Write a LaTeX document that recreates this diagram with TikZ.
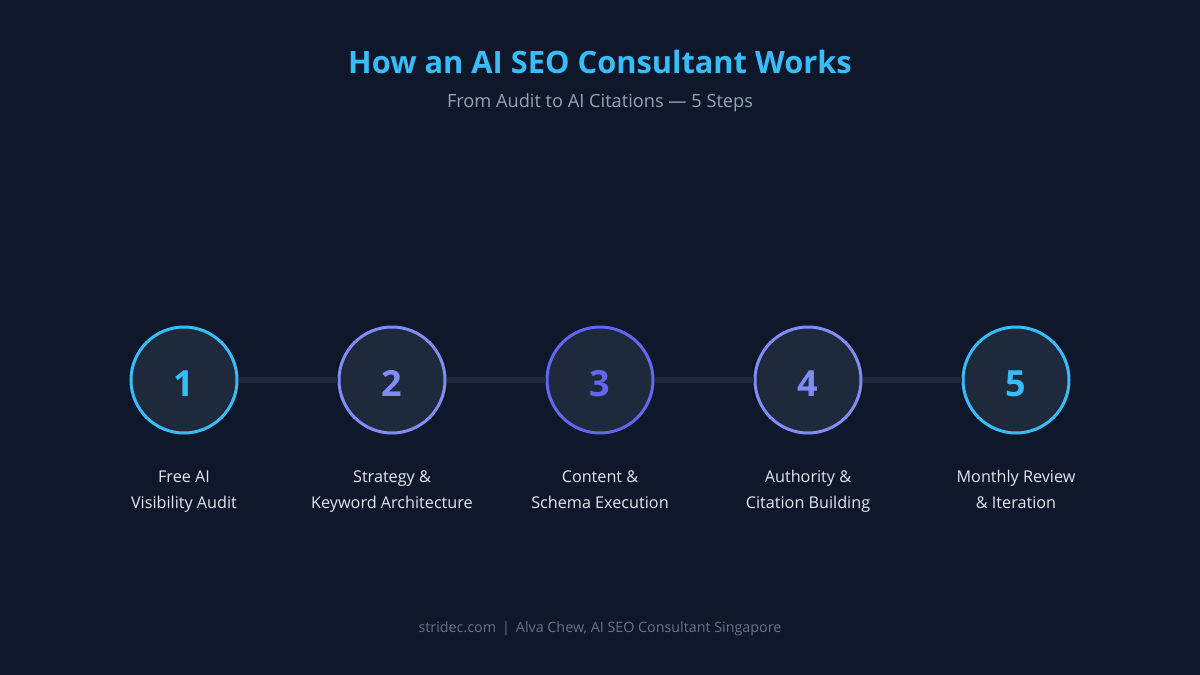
\documentclass[tikz,border=0pt]{standalone}
\usepackage{fontspec}
\setmainfont{Open Sans}
\definecolor{bg}{HTML}{0F172A}
\definecolor{cfill}{HTML}{1E293B}
\definecolor{sky}{HTML}{38BDF8}
\definecolor{indl}{HTML}{818CF8}
\definecolor{indd}{HTML}{6366F1}
\definecolor{subc}{HTML}{94A3B8}
\definecolor{labc}{HTML}{E2E8F0}
\definecolor{footc}{HTML}{64748B}
\tikzset{
  stepcircle/.style={circle, minimum size=106pt, inner sep=0pt, fill=cfill, draw=#1, line width=3pt, text=#1, text height=32pt, text depth=0pt, font=\fontsize{36}{40}\selectfont\bfseries},
  steplabel/.style={align=center, text=labc, font=\fontsize{16.2}{26}\selectfont},
  link/.style={draw=cfill, line width=6pt}
}
\begin{document}
\begin{tikzpicture}[x=1pt,y=-1pt]
\fill[bg] (0,0) rectangle (1200,675);
\useasboundingbox (0,0) rectangle (1200,675);
\node[text=sky, font=\fontsize{30.8}{34}\selectfont\bfseries] (title) at (600,62) {How an AI SEO Consultant Works};
\node[text=subc, font=\fontsize{18.2}{22}\selectfont] (sub) at (600,103) {From Audit to AI Citations — 5 Steps};
\node[stepcircle=sky] (c1) at (184,380) {1};
\node[stepcircle=indl] (c2) at (392,380) {2};
\node[stepcircle=indd] (c3) at (600,380) {3};
\node[stepcircle=indl] (c4) at (808,380) {4};
\node[stepcircle=sky] (c5) at (1016,380) {5};
\draw[link] (c1) -- (c2);
\draw[link] (c2) -- (c3);
\draw[link] (c3) -- (c4);
\draw[link] (c4) -- (c5);
\node[steplabel] (l1) at (184,490.5) {\strut Free AI\\\strut Visibility Audit};
\node[steplabel] (l2) at (392,490.5) {\strut Strategy \&\\\strut Keyword Architecture};
\node[steplabel] (l3) at (600,490.5) {\strut Content \&\\\strut Schema Execution};
\node[steplabel] (l4) at (808,490.5) {\strut Authority \&\\\strut Citation Building};
\node[steplabel] (l5) at (1016,490.5) {\strut Monthly Review\\\strut \& Iteration};
\node[text=footc, font=\fontsize{14.3}{18}\selectfont] (foot) at (600,629) {stridec.com\hspace{6pt}|\hspace{6pt}Alva Chew, AI SEO Consultant Singapore};
\end{tikzpicture}
\end{document}
